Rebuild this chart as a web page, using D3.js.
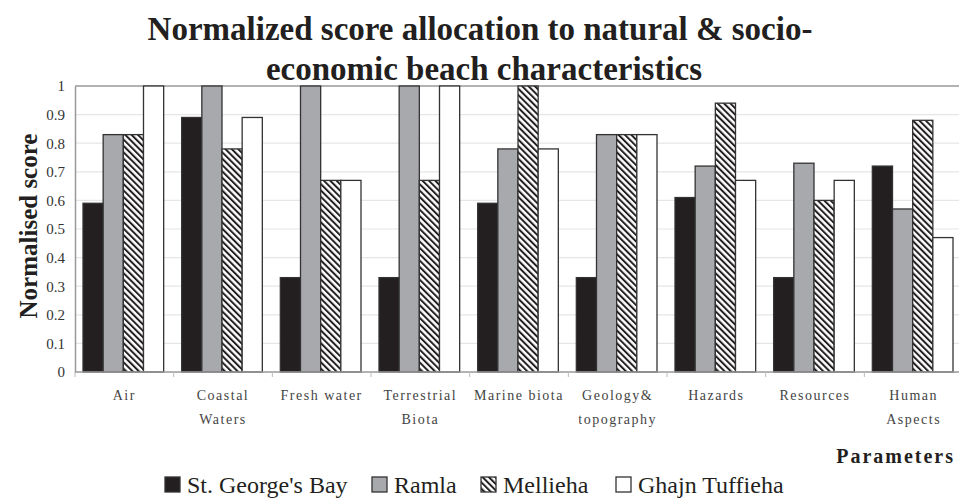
<!DOCTYPE html>
<html>
<head>
<meta charset="utf-8">
<script src="https://cdnjs.cloudflare.com/ajax/libs/d3/7.8.5/d3.min.js"></script>
<style>
  body { margin: 0; background: #fff; }
  svg text { font-family: "Liberation Serif", "DejaVu Serif", serif !important; }
</style>
</head>
<body>
<div id="theGraph"></div>
<script>
const categories = [["Air"], ["Coastal", "Waters"], ["Fresh water"], ["Terrestrial", "Biota"],
    ["Marine biota"], ["Geology&", "topography"], ["Hazards"], ["Resources"], ["Human", "Aspects"]];
const seriesNames = ["St. George's Bay", "Ramla", "Mellieha", "Ghajn Tuffieha"];
const stGeorges = [0.59, 0.89, 0.33, 0.33, 0.59, 0.33, 0.61, 0.33, 0.72];
const ramla     = [0.83, 1.00, 1.00, 1.00, 0.78, 0.83, 0.72, 0.73, 0.57];
const mellieha  = [0.83, 0.78, 0.67, 0.67, 1.00, 0.83, 0.94, 0.60, 0.88];
const ghajn     = [1.00, 0.89, 0.67, 1.00, 0.78, 0.83, 0.67, 0.67, 0.47];
const yTicks = [0, 0.1, 0.2, 0.3, 0.4, 0.5, 0.6, 0.7, 0.8, 0.9, 1];

const width = 959, height = 498,
    margin = {left: 75, top: 86, right: -4, bottom: 126},
    contentWidth = width - margin.left - margin.right,
    contentHeight = height - margin.top - margin.bottom;

const fills = ["#231f20", "#a7a9ac", "url(#hatch)", "#ffffff"];
const allSeries = [stGeorges, ramla, mellieha, ghajn];
const serif = "Liberation Serif, DejaVu Serif, serif";

const svg = d3.select("#theGraph").append("svg").attr("width", width).attr("height", height)
    .style("font-family", serif);

const pat = svg.append("defs").append("pattern").attr("id", "hatch")
    .attr("patternUnits", "userSpaceOnUse").attr("width", 4.5).attr("height", 4.5)
    .attr("patternTransform", "rotate(-45)");
pat.append("rect").attr("width", 4.5).attr("height", 4.5).attr("fill", "#fff");
pat.append("rect").attr("x", 0).attr("width", 2).attr("height", 4.5).attr("fill", "#231f20");

const maing = svg.append("g").attr("transform", `translate(${margin.left}, ${margin.top})`);

const xScale = d3.scaleBand().domain(d3.range(categories.length)).range([0, contentWidth]);
const xInner = d3.scaleBand().domain(d3.range(seriesNames.length)).range([8, xScale.bandwidth() - 10]);
const yScale = d3.scaleLinear().domain([0, 1]).range([contentHeight, 0]);

// grid
maing.selectAll(".grid").data(yTicks.slice(1)).enter().append("line")
    .attr("x1", 0).attr("x2", contentWidth)
    .attr("y1", d => yScale(d)).attr("y2", d => yScale(d))
    .attr("stroke", d => d === 1 ? "#999" : "#e6e6e6").attr("stroke-width", d => d === 1 ? 1.5 : 1.2);

// bars
const groups = maing.selectAll(".cat").data(categories).enter().append("g")
    .attr("transform", (d, i) => `translate(${xScale(i)},0)`);
groups.selectAll("rect").data((d, i) => allSeries.map((s, j) => ({v: s[i], j}))).enter().append("rect")
    .attr("x", d => xInner(d.j)).attr("width", xInner.bandwidth())
    .attr("y", d => yScale(d.v)).attr("height", d => yScale(0) - yScale(d.v))
    .attr("fill", d => fills[d.j]).attr("stroke", "#333").attr("stroke-width", 1.3);

// axes
const yAxis = maing.append("g").call(d3.axisLeft(yScale).tickValues(yTicks).tickSize(0).tickPadding(10)
    .tickFormat(d => d === 0 ? "0" : d === 1 ? "1" : d3.format(".1f")(d)));
yAxis.attr("font-family", serif);
yAxis.select(".domain").attr("stroke", "#999").attr("stroke-width", 1.5);
yAxis.selectAll("text").attr("font-size", 15).attr("fill", "#333");

const xAxis = maing.append("g").attr("transform", `translate(0,${contentHeight})`);
xAxis.append("line").attr("x1", 0).attr("x2", contentWidth).attr("stroke", "#999").attr("stroke-width", 1.5);
xAxis.selectAll(".tk").data(d3.range(categories.length + 1)).enter().append("line")
    .attr("x1", d => d * xScale.step()).attr("x2", d => d * xScale.step())
    .attr("y1", 0).attr("y2", 5).attr("stroke", "#bbb");
xAxis.selectAll(".lbl").data(categories).enter().append("text")
    .attr("x", (d, i) => xScale(i) + xScale.bandwidth() / 2)
    .attr("text-anchor", "middle").attr("font-size", 14).attr("fill", "#444")
    .attr("letter-spacing", 1.5)
    .selectAll("tspan").data(d => d).enter().append("tspan")
    .attr("x", function () { return this.parentNode.getAttribute("x"); })
    .attr("y", (d, k) => 28 + k * 24).text(d => d);

// titles
svg.append("text").attr("x", 480).attr("y", 40).attr("text-anchor", "middle")
    .attr("font-size", 33).attr("font-weight", "bold").attr("fill", "#231f20")
    .text("Normalized score allocation to natural & socio-");
svg.append("text").attr("x", 484).attr("y", 80).attr("text-anchor", "middle")
    .attr("font-size", 33).attr("font-weight", "bold").attr("fill", "#231f20")
    .text("economic beach characteristics");
svg.append("text").attr("transform", "translate(37,226) rotate(-90)").attr("text-anchor", "middle")
    .attr("font-size", 25).attr("font-weight", "bold").attr("fill", "#231f20")
    .text("Normalised score");
svg.append("text").attr("x", 955).attr("y", 463).attr("text-anchor", "end")
    .attr("font-size", 20).attr("font-weight", "bold").attr("fill", "#231f20")
    .attr("letter-spacing", 2).text("Parameters");

// legend
const legendX = [165, 372, 481, 616];
const legend = svg.selectAll(".leg").data(seriesNames).enter().append("g")
    .attr("transform", (d, i) => `translate(${legendX[i]},477)`);
legend.append("rect").attr("width", 15).attr("height", 15)
    .attr("fill", (d, i) => fills[i]).attr("stroke", "#333").attr("stroke-width", 1.3);
legend.append("text").attr("x", 22).attr("y", 16).attr("font-size", 24).attr("fill", "#231f20")
    .text(d => d);
</script>
</body>
</html>
